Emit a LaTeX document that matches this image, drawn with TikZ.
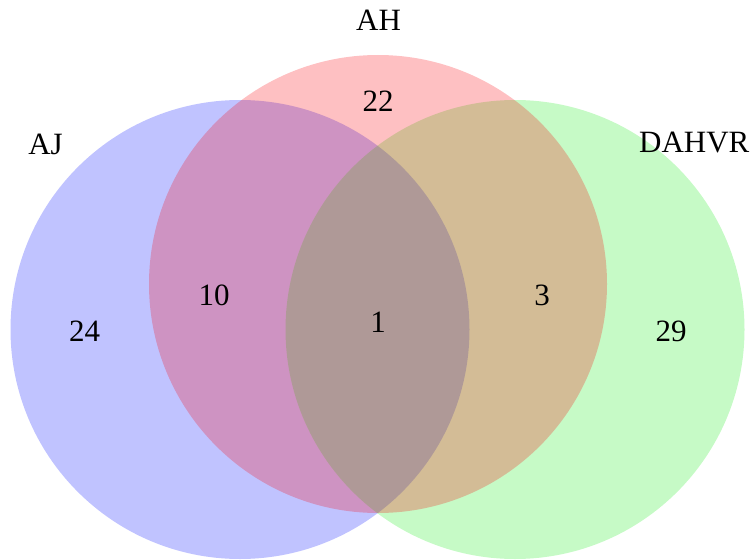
\documentclass[tikz,border=0pt]{standalone}
\usepackage{fontspec}
\setmainfont{Liberation Serif}
\definecolor{setblue}{RGB}{3,15,255}
\definecolor{setgreen}{RGB}{27,235,27}
\definecolor{setred}{RGB}{250,3,11}
\begin{document}
\begin{tikzpicture}[x=1pt,y=-1pt,
  setcircle/.style={fill opacity=0.25, draw=none},
  lbl/.style={anchor=base, inner sep=0pt, font=\fontsize{31}{37}\selectfont}]
\useasboundingbox (0,0) rectangle (754,559);
\fill[setcircle, fill=setblue] (240,329.5) circle[radius=229.5];
\fill[setcircle, fill=setgreen] (515,329.5) circle[radius=229.5];
\fill[setcircle, fill=setred] (378,284) circle[radius=229];
\node[lbl] (tAH) at (378.5,31) {AH};
\node[lbl] (tAJ) at (45.5,154) {AJ};
\node[lbl, anchor=base west] (tD) at (639,152) {DAHVR};
\node[lbl] (n22) at (378,112) {22};
\node[lbl] (n24) at (84.5,341) {24};
\node[lbl] (n29) at (671,341) {29};
\node[lbl] (n10) at (214,305) {10};
\node[lbl] (n1) at (378,332) {1};
\node[lbl] (n3) at (542,305) {3};
\end{tikzpicture}
\end{document}
